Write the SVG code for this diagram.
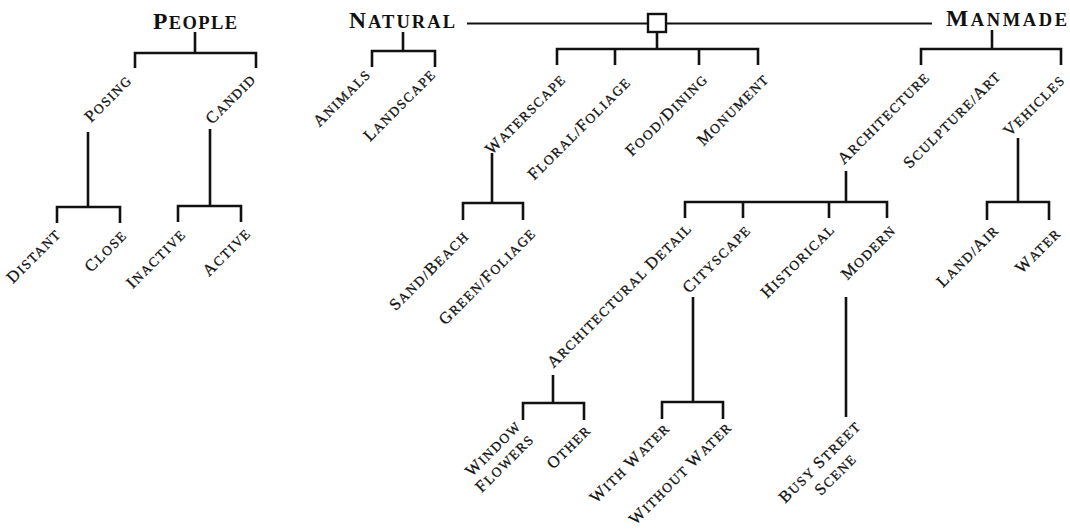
<svg xmlns="http://www.w3.org/2000/svg" width="1070" height="529" viewBox="0 0 1070 529">
<style>
text{font-family:"Liberation Serif","Times New Roman",serif;fill:#111}
.h{font-size:18.5px;font-weight:bold;text-anchor:middle}
.h .c{font-size:23.5px}
.l{font-size:13.5px;letter-spacing:1.5px;text-anchor:end;stroke:#111;stroke-width:0.3}
.l .c{font-size:16.5px}
.ln{fill:none;stroke:#111;stroke-width:2.6;stroke-linecap:butt;stroke-linejoin:miter}
</style>
<rect width="1070" height="529" fill="#fff"/>
<g id="connectors" class="ln">
<path d="M467,23.5H648M666,23.5H932" stroke-width="2.2"/>
<path d="M195,32V53M135,68V53H256V68"/>
<path d="M88,132V207M57,223V207H120V223"/>
<path d="M210,129V206M178,222V206H241V222"/>
<path d="M403,32V51M372,67V51H435V67"/>
<path d="M657,32V49M557,65V49H758V65M615,49V65M699,49V65"/>
<path d="M492,153V203M463,220V203H523V220"/>
<path d="M992,30V49M921,65V49H1061V65"/>
<path d="M1018,138V202M987,220V202H1049V220"/>
<path d="M846,171V202M685,218V202H887V218M743,202V218M829,202V218"/>
<path d="M553,375V403M523,420V403H584V420"/>
<path d="M693,297V402M662,419V402H723V419"/>
<path d="M846,297V417"/>
</g>
<g id="junction"><rect x="648" y="14" width="18" height="18" fill="#fff" stroke="#111" stroke-width="2.4"/></g>
<g id="people"><text class="h" x="195" y="29" textLength="84" lengthAdjust="spacing"><tspan class="c">P</tspan>EOPLE</text></g>
<g id="natural"><text class="h" x="402" y="28" textLength="106" lengthAdjust="spacing"><tspan class="c">N</tspan>ATURAL</text></g>
<g id="manmade"><text class="h" x="1006.5" y="26" textLength="121" lengthAdjust="spacing"><tspan class="c">M</tspan>ANMADE</text></g>
<g id="posing"><text class="l" transform="translate(133,81) rotate(-45)"><tspan class="c">P</tspan>OSING</text></g>
<g id="candid"><text class="l" transform="translate(257,80) rotate(-45)"><tspan class="c">C</tspan>ANDID</text></g>
<g id="distant"><text class="l" transform="translate(62,235) rotate(-45)"><tspan class="c">D</tspan>ISTANT</text></g>
<g id="close"><text class="l" transform="translate(128,236) rotate(-45)"><tspan class="c">C</tspan>LOSE</text></g>
<g id="inactive"><text class="l" transform="translate(187,235) rotate(-45)"><tspan class="c">I</tspan>NACTIVE</text></g>
<g id="active"><text class="l" transform="translate(252,234) rotate(-45)"><tspan class="c">A</tspan>CTIVE</text></g>
<g id="animals"><text class="l" transform="translate(372,75) rotate(-45)"><tspan class="c">A</tspan>NIMALS</text></g>
<g id="landscape"><text class="l" transform="translate(437,75) rotate(-45)"><tspan class="c">L</tspan>ANDSCAPE</text></g>
<g id="waterscape"><text class="l" transform="translate(567,80) rotate(-45)"><tspan class="c">W</tspan>ATERSCAPE</text></g>
<g id="floral"><text class="l" transform="translate(632,83) rotate(-45)"><tspan class="c">F</tspan>LORAL/<tspan class="c">F</tspan>OLIAGE</text></g>
<g id="food"><text class="l" transform="translate(709,80) rotate(-45)"><tspan class="c">F</tspan>OOD/<tspan class="c">D</tspan>INING</text></g>
<g id="monument"><text class="l" transform="translate(770,80) rotate(-45)"><tspan class="c">M</tspan>ONUMENT</text></g>
<g id="architecture"><text class="l" transform="translate(931,78) rotate(-45)"><tspan class="c">A</tspan>RCHITECTURE</text></g>
<g id="sculpture"><text class="l" transform="translate(1002,77) rotate(-45)"><tspan class="c">S</tspan>CULPTURE/<tspan class="c">A</tspan>RT</text></g>
<g id="vehicles"><text class="l" transform="translate(1066,81) rotate(-45)"><tspan class="c">V</tspan>EHICLES</text></g>
<g id="sand"><text class="l" transform="translate(470,237) rotate(-45)"><tspan class="c">S</tspan>AND/<tspan class="c">B</tspan>EACH</text></g>
<g id="green"><text class="l" transform="translate(537,234) rotate(-45)"><tspan class="c">G</tspan>REEN/<tspan class="c">F</tspan>OLIAGE</text></g>
<g id="archdetail"><text class="l" transform="translate(693,229) rotate(-45)"><tspan class="c">A</tspan>RCHITECTURAL <tspan class="c">D</tspan>ETAIL</text></g>
<g id="cityscape"><text class="l" transform="translate(752,231) rotate(-45)"><tspan class="c">C</tspan>ITYSCAPE</text></g>
<g id="historical"><text class="l" transform="translate(836,230) rotate(-45)"><tspan class="c">H</tspan>ISTORICAL</text></g>
<g id="modern"><text class="l" transform="translate(897,231) rotate(-45)"><tspan class="c">M</tspan>ODERN</text></g>
<g id="landair"><text class="l" transform="translate(1000,231) rotate(-45)"><tspan class="c">L</tspan>AND/<tspan class="c">A</tspan>IR</text></g>
<g id="water"><text class="l" transform="translate(1062,234) rotate(-45)"><tspan class="c">W</tspan>ATER</text></g>
<g id="windowflowers"><text class="l" transform="translate(522,427) rotate(-45)"><tspan x="0" y="0"><tspan class="c">W</tspan>INDOW</tspan><tspan x="0" y="18.4"><tspan class="c">F</tspan>LOWERS</tspan></text></g>
<g id="other"><text class="l" transform="translate(592,431) rotate(-45)"><tspan class="c">O</tspan>THER</text></g>
<g id="withwater"><text class="l" transform="translate(671,429) rotate(-45)"><tspan class="c">W</tspan>ITH <tspan class="c">W</tspan>ATER</text></g>
<g id="withoutwater"><text class="l" transform="translate(733,428) rotate(-45)"><tspan class="c">W</tspan>ITHOUT <tspan class="c">W</tspan>ATER</text></g>
<g id="busystreet"><text class="l" transform="translate(862,427) rotate(-45)"><tspan x="0" y="0"><tspan class="c">B</tspan>USY <tspan class="c">S</tspan>TREET</tspan><tspan x="-26" y="20"><tspan class="c">S</tspan>CENE</tspan></text></g>
</svg>
